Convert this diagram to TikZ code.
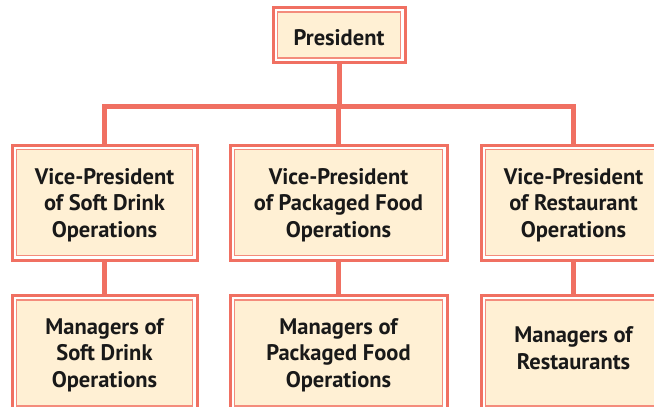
\documentclass[tikz,border=0pt]{standalone}
\usepackage{fontspec}
\setmainfont{PT Sans}
\usetikzlibrary{positioning}
\definecolor{salmon}{RGB}{240,112,98}
\definecolor{salmonlt}{RGB}{244,140,124}
\definecolor{cream}{RGB}{255,240,212}
\begin{document}
\begin{tikzpicture}[
    x=1pt, y=-1pt,
    every node/.style={font=\fontsize{22.5}{26.5}\selectfont\bfseries, text=black!90},
    box/.style ={draw=salmon, line width=3pt, fill=white, align=center,
                 inner sep=0pt,
                 path picture={\draw[salmonlt, line width=1.4pt, fill=cream]
                   ([shift={(4.6pt,4.6pt)}]path picture bounding box.south west) rectangle
                   ([shift={(-4.6pt,-4.6pt)}]path picture bounding box.north east);}},
    top/.style ={box, minimum width=132pt, minimum height=55pt, text height=20pt, text depth=0pt},
    vp/.style  ={box, minimum height=115pt, text depth=-9pt},
    mgr/.style ={box, minimum height=115pt, text depth=0pt},
    link/.style={draw=salmon, line width=5pt},
]
\clip (0,0) rectangle (654,407);
\fill[white] (0,0) rectangle (654,407);
% boxes
\node[top] (pres) at (339,35) {President};
\node[vp, minimum width=185pt] (vpsoft) at (104.5,202.5) {Vice-President\\of Soft Drink\\Operations};
\node[vp, minimum width=217pt] (vpfood) at (338.5,202.5) {Vice-President\\of Packaged Food\\Operations};
\node[vp, minimum width=185pt] (vprest) at (573.5,202.5) {Vice-President\\of Restaurant\\Operations};
\node[mgr, minimum width=185pt] (mgsoft) at (104.5,353) {Managers of\\Soft Drink\\Operations};
\node[mgr, minimum width=217pt] (mgfood) at (338.5,353) {Managers of\\Packaged Food\\Operations};
\node[mgr, minimum width=185pt, text depth=10pt] (mgrest) at (573.5,353) {Managers of\\Restaurants};
% connectors
\coordinate (bar) at (339,106.5);
\draw[link] (pres.south) -- (pres.south |- bar);
\draw[link] (vpsoft.north) -- (vpsoft.north |- bar) -- (vprest.north |- bar) -- (vprest.north);
\draw[link] (vpfood.north) -- (vpfood.north |- bar);
\draw[link] (vpsoft) -- (mgsoft);
\draw[link] (vpfood.south) -- (mgfood.north);
\draw[link] (vprest.south) -- (mgrest.north);
\end{tikzpicture}
\end{document}
